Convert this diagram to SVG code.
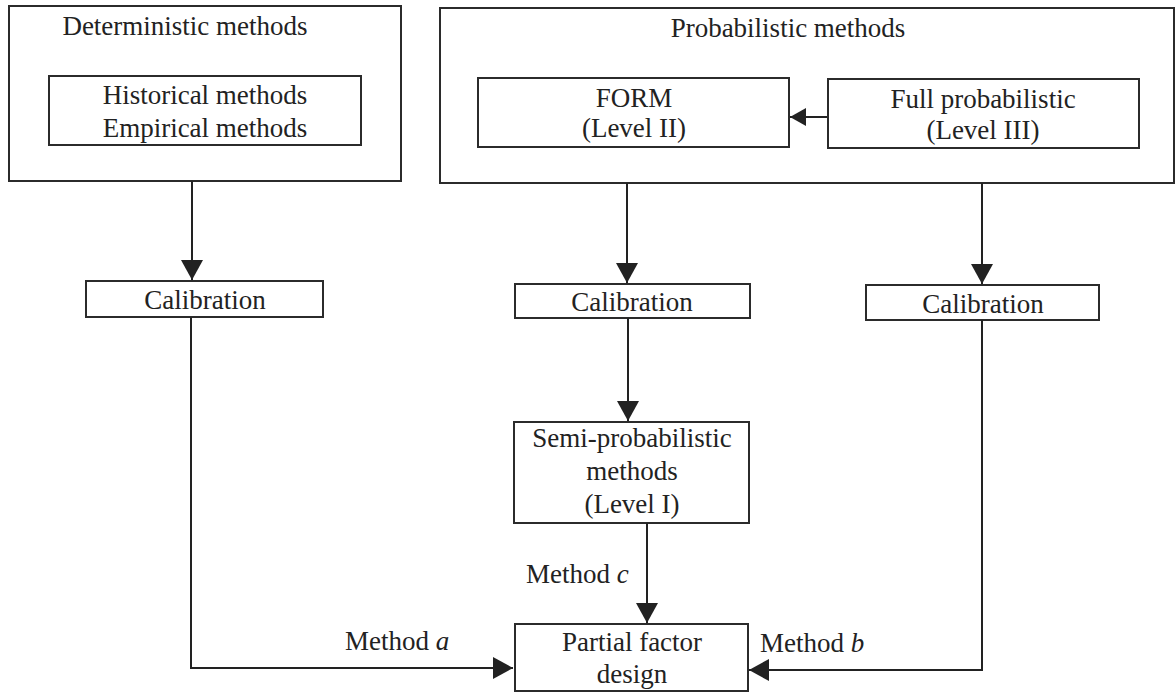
<svg xmlns="http://www.w3.org/2000/svg" width="1176" height="692" viewBox="0 0 1176 692">
<style>
.box{fill:none;stroke:#2b2b2b;stroke-width:2}
.t{font-family:"Liberation Serif","Times New Roman",serif;font-size:27px;fill:#222;text-anchor:middle}
.l{font-family:"Liberation Serif","Times New Roman",serif;font-size:27px;fill:#222}
.it{font-style:italic}
.c{fill:none;stroke:#222;stroke-width:2}
</style>
<defs>
<marker id="ah" markerUnits="userSpaceOnUse" markerWidth="22" markerHeight="22" refX="20" refY="11" orient="auto">
<path d="M0,0 L20,11 L0,22 z" fill="#222"/>
</marker>
<marker id="ahs" markerUnits="userSpaceOnUse" markerWidth="18" markerHeight="18" refX="16" refY="9" orient="auto">
<path d="M0,0 L16,9 L0,18 z" fill="#222"/>
</marker>
</defs>
<rect width="1176" height="692" fill="#fff"/>
<g id="deterministic">
<rect class="box" x="9" y="6" width="392" height="175"/>
<text class="t" x="185" y="35">Deterministic methods</text>
</g>
<g id="historical">
<rect class="box" x="49" y="76" width="312" height="69"/>
<text class="t" x="205" y="104">Historical methods</text>
<text class="t" x="205" y="137">Empirical methods</text>
</g>
<g id="probabilistic">
<rect class="box" x="440" y="8" width="734" height="175"/>
<text class="t" x="788" y="37">Probabilistic methods</text>
</g>
<g id="form">
<rect class="box" x="478" y="78" width="311" height="69"/>
<text class="t" x="634" y="107">FORM</text>
<text class="t" x="634" y="137">(Level II)</text>
</g>
<g id="full">
<rect class="box" x="828" y="79" width="311" height="69"/>
<text class="t" x="983" y="108">Full probabilistic</text>
<text class="t" x="983" y="139">(Level III)</text>
</g>
<g id="calib1">
<rect class="box" x="86" y="281" width="237" height="36"/>
<text class="t" x="205" y="309">Calibration</text>
</g>
<g id="calib2">
<rect class="box" x="515" y="284" width="235" height="34"/>
<text class="t" x="632" y="311">Calibration</text>
</g>
<g id="calib3">
<rect class="box" x="866" y="285" width="233" height="35"/>
<text class="t" x="983" y="313">Calibration</text>
</g>
<g id="semi">
<rect class="box" x="514" y="422" width="235" height="101"/>
<text class="t" x="632" y="447">Semi-probabilistic</text>
<text class="t" x="632" y="480">methods</text>
<text class="t" x="632" y="513">(Level I)</text>
</g>
<g id="partial">
<rect class="box" x="515" y="624" width="233" height="67"/>
<text class="t" x="632" y="651">Partial factor</text>
<text class="t" x="632" y="683">design</text>
</g>
<g id="connectors">
<line class="c" x1="827" y1="117" x2="790" y2="117" marker-end="url(#ahs)"/>
<line class="c" x1="192" y1="181" x2="192" y2="280" marker-end="url(#ah)"/>
<line class="c" x1="627" y1="183" x2="627" y2="283" marker-end="url(#ah)"/>
<line class="c" x1="982" y1="183" x2="982" y2="284" marker-end="url(#ah)"/>
<line class="c" x1="628" y1="318" x2="628" y2="421" marker-end="url(#ah)"/>
<line class="c" x1="647" y1="523" x2="647" y2="623" marker-end="url(#ah)"/>
<polyline class="c" points="191,317 191,668 513,668" marker-end="url(#ah)"/>
<polyline class="c" points="982,320 982,670 749,670" marker-end="url(#ah)"/>
<text class="l" x="345" y="650">Method <tspan class="it">a</tspan></text>
<text class="l" x="760" y="652">Method <tspan class="it">b</tspan></text>
<text class="l" x="526" y="583">Method <tspan class="it">c</tspan></text>
</g>
</svg>
